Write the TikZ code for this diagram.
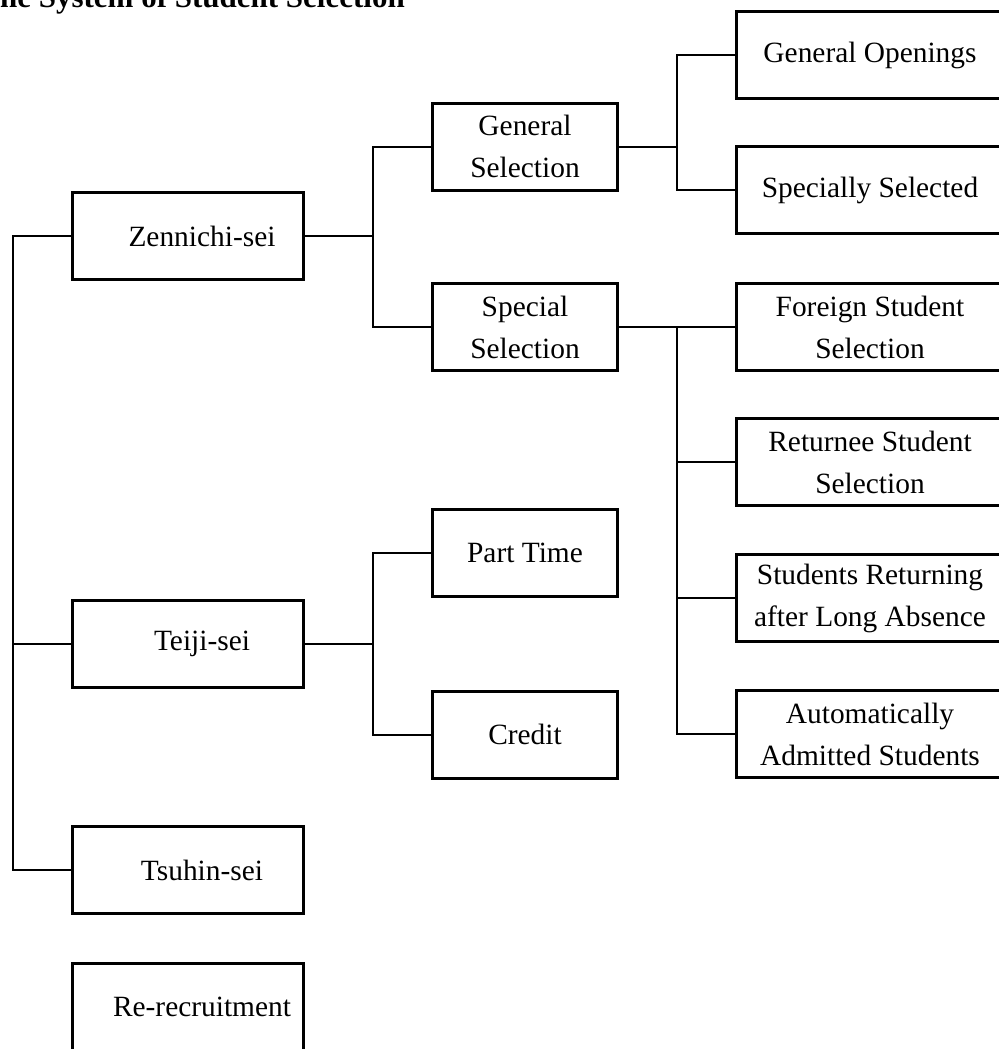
\documentclass[tikz,border=0pt]{standalone}
\usepackage{fontspec}
\setmainfont{Liberation Serif}
\usepackage{tikz}

\begin{document}
\begin{tikzpicture}[x=0.5pt,y=-0.5pt,
  box/.style={draw,line width=1.5pt,minimum height=43.5pt,align=center,inner sep=0pt,
    font=\fontsize{14.7}{21}\selectfont},
  leftbox/.style={box,minimum width=115.5pt,execute at begin node={\hspace*{14pt}}},
  midbox/.style={box,minimum width=92.5pt},
  rightbox/.style={box,minimum width=133.5pt},
  link/.style={line width=1pt}]
\useasboundingbox (0,0) rectangle (999,1049);
\node[anchor=base west,inner sep=0pt,font=\fontsize{15.5}{18}\selectfont\bfseries] (title) at (-21,7) {The System of Student Selection} ;
\coordinate (spine) at (13,0) ;
\coordinate (j1) at (373,0) ;
\coordinate (j2) at (677,0) ;
\node[leftbox] (zen) at (188,236) {Zennichi-sei} ;
\node[leftbox] (tei) at (188,643.5) {Teiji-sei} ;
\node[leftbox] (tsu) at (188,870) {Tsuhin-sei} ;
\node[leftbox] (rer) at (188,1007) {Re-recruitment} ;
\node[midbox] (gsel) at (525,146.5) {General\\Selection} ;
\node[midbox] (ssel) at (525,327) {Special\\Selection} ;
\node[midbox] (pt) at (525,552.5) {Part Time} ;
\node[midbox] (cr) at (525,734.5) {Credit} ;
\node[rightbox] (gop) at (870,55) {General Openings} ;
\node[rightbox] (ssp) at (870,190) {Specially Selected} ;
\node[rightbox] (fss) at (870,327) {Foreign Student\\Selection} ;
\node[rightbox] (ret) at (870,462) {Returnee Student\\Selection} ;
\node[rightbox] (slr) at (870,598) {Students Returning\\after Long Absence} ;
\node[rightbox] (aut) at (870,734) {Automatically\\Admitted Students} ;
\draw[link] (zen.west) -| (tsu.west -| spine) -- (tsu.west) ;
\draw[link] (tei.west) -- (tei.west -| spine) ;
\draw[link] (zen.east) -- (zen.east -| j1) ;
\draw[link] (gsel.west) -| (ssel.west -| j1) -- (ssel.west) ;
\draw[link] (tei.east) -- (tei.east -| j1) ;
\draw[link] (pt.west) -| (cr.west -| j1) -- (cr.west) ;
\draw[link] (gsel.east) -- (gsel.east -| j2) ;
\draw[link] (gop.west) -| (ssp.west -| j2) -- (ssp.west) ;
\draw[link] (ssel.east) -- (fss.west) ;
\draw[link] (fss.west -| j2) |- (aut.west) ;
\draw[link] (ret.west) -- (ret.west -| j2) ;
\draw[link] (slr.west) -- (slr.west -| j2) ;
\end{tikzpicture}
\end{document}
